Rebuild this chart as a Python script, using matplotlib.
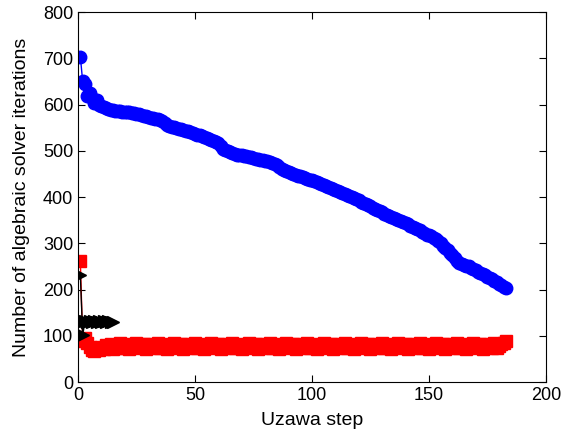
import matplotlib
matplotlib.use('Agg')
import matplotlib.pyplot as plt
import numpy as np

# iterations of the algebraic solver per Uzawa step
blue_iters = [
    704, 650, 645, 618, 626, 615, 603, 611, 600, 598,
    595, 592, 590, 589, 588, 587, 587, 586, 585, 585,
    584, 583, 582, 581, 580, 579, 578, 576, 575, 574,
    572, 571, 569, 568, 566, 564, 560, 556, 554, 552,
    551, 549, 548, 547, 545, 544, 542, 540, 538, 537,
    535, 534, 532, 530, 528, 526, 524, 522, 519, 516,
    510, 505, 502, 500, 497, 495, 494, 492, 491, 490,
    489, 488, 487, 486, 484, 483, 482, 481, 480, 478,
    477, 476, 474, 472, 470, 466, 461, 458, 456, 454,
    452, 450, 448, 446, 445, 443, 441, 440, 438, 436,
    434, 432, 430, 428, 426, 424, 422, 420, 418, 416,
    413, 411, 408, 406, 404, 402, 400, 397, 395, 393,
    390, 388, 385, 382, 380, 377, 375, 372, 369, 367,
    364, 362, 360, 357, 355, 353, 350, 348, 346, 343,
    341, 338, 336, 333, 330, 328, 325, 322, 319, 317,
    315, 312, 309, 305, 300, 295, 290, 285, 280, 274,
    268, 262, 258, 256, 254, 252, 250, 247, 245, 242,
    239, 236, 234, 231, 228, 225, 222, 219, 216, 212,
    209, 206, 203,
]

red_iters = [
    262, 88, 95, 84, 76, 70, 68, 72, 69, 76,
    71, 80, 73, 82, 72, 79, 74, 84, 73, 78,
    82, 72, 79, 76, 85, 73, 78, 82, 72, 83,
    75, 79, 73, 84, 74, 78, 82, 72, 79, 76,
    85, 73, 78, 82, 72, 83, 75, 79, 73, 84,
    74, 78, 82, 72, 79, 76, 85, 73, 78, 82,
    72, 83, 75, 79, 73, 84, 74, 78, 82, 72,
    79, 76, 85, 73, 78, 82, 72, 83, 75, 79,
    73, 84, 74, 78, 82, 72, 79, 76, 85, 73,
    78, 82, 72, 83, 75, 79, 73, 84, 74, 78,
    82, 72, 79, 76, 85, 73, 78, 82, 72, 83,
    75, 79, 73, 84, 74, 78, 82, 72, 79, 76,
    85, 73, 78, 82, 72, 83, 75, 79, 73, 84,
    74, 78, 82, 72, 79, 76, 85, 73, 78, 82,
    72, 83, 75, 79, 73, 84, 74, 78, 82, 72,
    79, 76, 85, 73, 78, 82, 72, 83, 75, 79,
    73, 84, 74, 78, 82, 72, 79, 76, 85, 73,
    78, 82, 72, 83, 75, 79, 73, 84, 74, 78,
    82, 85, 88,
]

black_iters = [232, 102, 131, 130, 132, 129, 131, 130, 132, 130, 131, 129, 131, 130, 130]


def main():
    plt.rcParams['font.family'] = ['Liberation Sans', 'DejaVu Sans']
    plt.rcParams['font.size'] = 13

    fig = plt.figure(figsize=(5.71, 4.34), dpi=100)
    ax = fig.add_axes([0.1366, 0.1198, 0.956 - 0.1366, 0.972 - 0.1198])

    steps_b = np.arange(1, len(blue_iters) + 1)
    steps_r = np.arange(1, len(red_iters) + 1)
    steps_k = np.arange(1, len(black_iters) + 1)

    ax.plot(steps_b, blue_iters, 'bo-', markersize=9, linewidth=1)
    ax.plot(steps_r, red_iters, 'rs-', markersize=8, linewidth=1)
    ax.plot(steps_k, black_iters, 'k>-', markersize=9, linewidth=1)

    ax.set_xlim(0, 200)
    ax.set_ylim(0, 800)
    ax.set_xticks(np.arange(0, 201, 50))
    ax.set_yticks(np.arange(0, 801, 100))
    ax.tick_params(direction='in', top=True, right=True, length=5)

    ax.set_xlabel('Uzawa step', fontsize=14, labelpad=6)
    ax.set_ylabel('Number of algebraic solver iterations', fontsize=14, labelpad=9)

    fig.savefig('out.png', dpi=100)


if __name__ == '__main__':
    main()
